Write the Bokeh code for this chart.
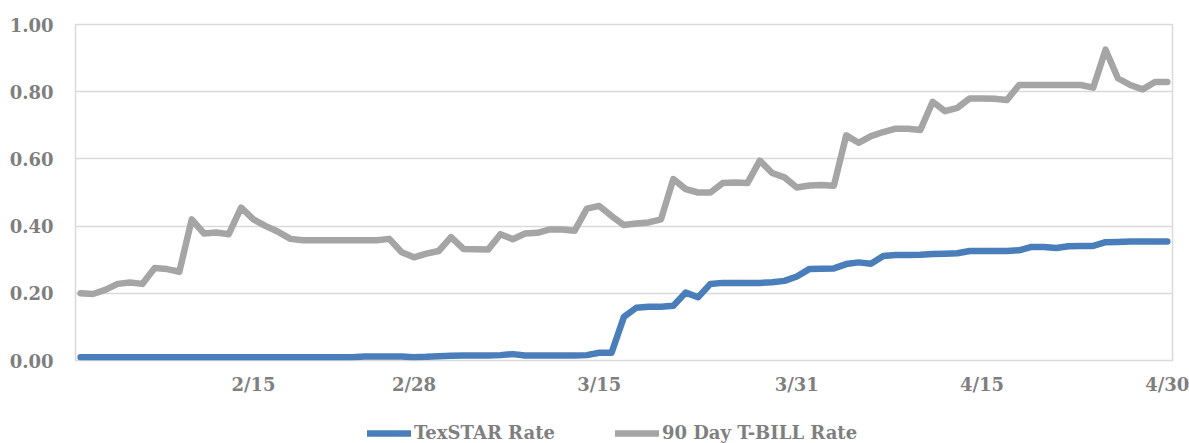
import pandas as pd
from bokeh.plotting import figure
from bokeh.layouts import column
from bokeh.models import (Range1d, FixedTicker, NumeralTickFormatter, Legend,
                          LegendItem, ColumnDataSource)
from bokeh.embed import file_html
from bokeh.resources import INLINE

# ---- data ----
start_date = "2022-02-01"
end_date = "2022-04-30"
tick_dates = ["2022-02-15", "2022-02-28", "2022-03-15", "2022-03-31", "2022-04-15", "2022-04-30"]
tick_labels = ["2/15", "2/28", "3/15", "3/31", "4/15", "4/30"]
series_names = ["TexSTAR Rate", "90 Day T-BILL Rate"]

texstar_rate = [
    0.010, 0.010, 0.010, 0.010, 0.010, 0.010, 0.010, 0.010, 0.010, 0.010,
    0.010, 0.010, 0.010, 0.010, 0.010, 0.010, 0.010, 0.010, 0.010, 0.010,
    0.010, 0.010, 0.010, 0.012, 0.012, 0.012, 0.012, 0.010, 0.011, 0.013,
    0.014, 0.015, 0.015, 0.015, 0.016, 0.019, 0.015, 0.015, 0.015, 0.015,
    0.015, 0.016, 0.023, 0.023, 0.130, 0.157, 0.160, 0.160, 0.163, 0.202,
    0.188, 0.228, 0.231, 0.231, 0.231, 0.231, 0.233, 0.237, 0.250, 0.272,
    0.273, 0.274, 0.287, 0.292, 0.288, 0.311, 0.314, 0.314, 0.315, 0.317,
    0.318, 0.319, 0.326, 0.326, 0.326, 0.326, 0.328, 0.338, 0.338, 0.335,
    0.340, 0.341, 0.341, 0.352, 0.353, 0.354, 0.354, 0.354, 0.354,
]

tbill_rate = [
    0.200, 0.198, 0.210, 0.228, 0.232, 0.228, 0.275, 0.272, 0.264, 0.420,
    0.378, 0.381, 0.376, 0.455, 0.420, 0.400, 0.383, 0.362, 0.358, 0.358,
    0.358, 0.358, 0.358, 0.358, 0.358, 0.362, 0.322, 0.307, 0.318, 0.326,
    0.367, 0.332, 0.331, 0.330, 0.376, 0.361, 0.378, 0.380, 0.390, 0.390,
    0.386, 0.452, 0.460, 0.430, 0.403, 0.408, 0.411, 0.420, 0.540, 0.510,
    0.500, 0.500, 0.528, 0.530, 0.528, 0.595, 0.558, 0.545, 0.515, 0.521,
    0.522, 0.520, 0.670, 0.648, 0.668, 0.680, 0.690, 0.690, 0.686, 0.770,
    0.742, 0.752, 0.780, 0.780, 0.779, 0.775, 0.820, 0.820, 0.820, 0.820,
    0.820, 0.820, 0.812, 0.925, 0.840, 0.820, 0.807, 0.829, 0.829,
]

y_ticks = [0.0, 0.2, 0.4, 0.6, 0.8, 1.0]

# ---- build ----
dates = pd.date_range(start_date, end_date, freq="D")
day_index = [(d - dates[0]).days for d in dates]
tick_pos = [(pd.Timestamp(t) - dates[0]).days for t in tick_dates]

src = ColumnDataSource(dict(x=day_index, tex=texstar_rate, tb=tbill_rate))

FONT = "DejaVu Serif"
TXT = "#7f7f7f"
GRID = "#d9d9d9"
BLUE = "#4a7ebb"
GRAY = "#a5a5a5"
LW = 6.5

p = figure(width=1189, height=410, output_backend="svg", toolbar_location=None,
           x_range=Range1d(-0.41, day_index[-1] + 0.42), y_range=Range1d(0, 1),
           min_border_left=75, min_border_right=17, min_border_top=24,
           min_border_bottom=50)

p.line("x", "tex", source=src, line_color=BLUE, line_width=LW,
       line_cap="round", line_join="round")
p.line("x", "tb", source=src, line_color=GRAY, line_width=LW,
       line_cap="round", line_join="round")

p.outline_line_color = GRID
p.outline_line_width = 1.5
p.xgrid.grid_line_color = None
p.ygrid.grid_line_color = GRID
p.ygrid.grid_line_width = 1.5

p.yaxis.ticker = FixedTicker(ticks=y_ticks)
p.yaxis.formatter = NumeralTickFormatter(format="0.00")
p.xaxis.ticker = FixedTicker(ticks=tick_pos)
p.xaxis.major_label_overrides = {tp: lab for tp, lab in zip(tick_pos, tick_labels)}

for ax in (p.xaxis[0], p.yaxis[0]):
    ax.axis_line_color = None
    ax.major_tick_line_color = None
    ax.minor_tick_line_color = None
    ax.major_tick_in = 0
    ax.major_tick_out = 0
    ax.minor_tick_in = 0
    ax.minor_tick_out = 0
    ax.major_label_text_font = FONT
    ax.major_label_text_font_style = "bold"
    ax.major_label_text_font_size = "18px"
    ax.major_label_text_color = TXT
p.yaxis.major_label_standoff = 22
p.xaxis.major_label_standoff = 13

# ---- legend strip below the chart ----
lg = figure(width=1189, height=33, output_backend="svg", toolbar_location=None,
            x_range=Range1d(0, 1), y_range=Range1d(0, 1),
            min_border=0, min_border_left=0, min_border_right=0,
            min_border_top=0, min_border_bottom=0)
lg.axis.visible = False
lg.grid.visible = False
lg.outline_line_color = None
nan = float("nan")
k1 = lg.line(x=[nan, nan], y=[nan, nan], line_color=BLUE, line_width=LW, line_cap="round")
k2 = lg.line(x=[nan, nan], y=[nan, nan], line_color=GRAY, line_width=LW, line_cap="round")

legend = Legend(items=[LegendItem(label=series_names[0], renderers=[k1]),
                       LegendItem(label=series_names[1], renderers=[k2])],
                orientation="horizontal", location=(292, 0))
legend.glyph_width = 44
legend.label_standoff = 3
legend.spacing = 60
legend.padding = 0
legend.margin = 0
legend.border_line_color = None
legend.background_fill_alpha = 0
legend.label_text_font = FONT
legend.label_text_font_style = "bold"
legend.label_text_font_size = "18px"
legend.label_text_color = TXT
lg.add_layout(legend, "center")

open("out.html", "w").write(file_html(column(p, lg, spacing=0), INLINE))
